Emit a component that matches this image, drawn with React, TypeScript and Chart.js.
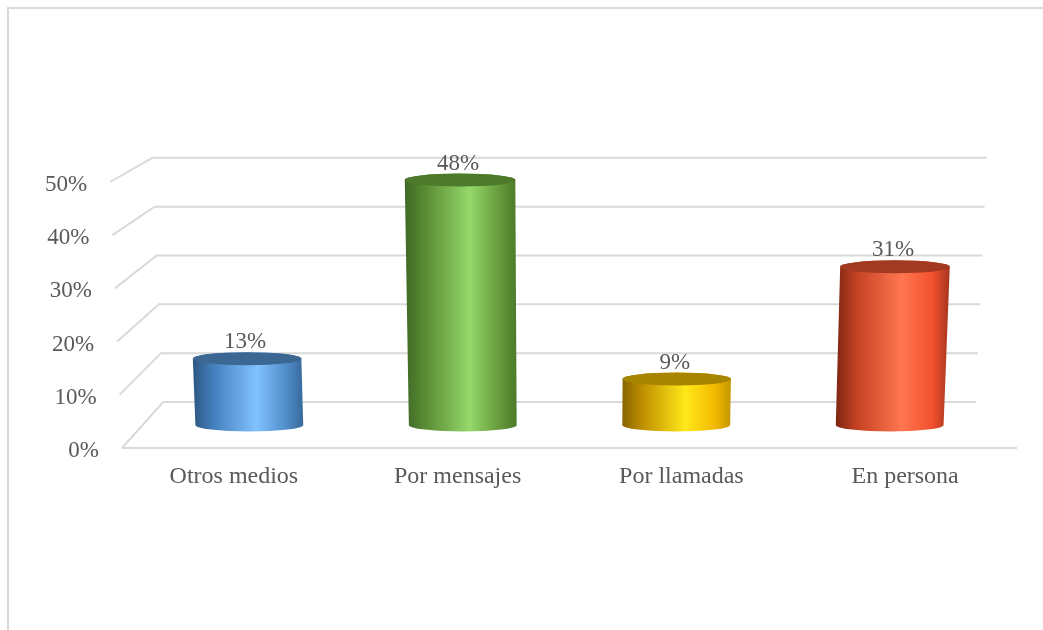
import { useEffect, useRef } from 'react';
import { Chart, registerables } from 'chart.js';

Chart.register(...registerables);

const CATEGORIES = ['Otros medios', 'Por mensajes', 'Por llamadas', 'En persona'];
const VALUES = [13, 48, 9, 31];
const DATA_LABELS = ['13%', '48%', '9%', '31%'];
const TICK_VALUES = [0, 10, 20, 30, 40, 50];
const TICK_LABELS = ['0%', '10%', '20%', '30%', '40%', '50%'];

const BODY_STOPS: [number, string][][] = [
  [[0, '#2c5682'], [0.2, '#4782c0'], [0.58, '#80c2ff'], [0.85, '#4f8cc8'], [1, '#386a9c']],
  [[0, '#3f6826'], [0.2, '#5c8f35'], [0.58, '#94d86a'], [0.85, '#66993b'], [1, '#4c7a2a']],
  [[0, '#876500'], [0.2, '#c29200'], [0.58, '#ffe81a'], [0.85, '#f4ba00'], [1, '#c49600']],
  [[0, '#7e2511'], [0.2, '#c94425'], [0.58, '#ff7650'], [0.85, '#f2502d'], [1, '#a5351e']],
];
const TOP_COLORS = ['#3c6792', '#4c7a2a', '#a88500', '#a13a21'];

const TEXT = '#595959';
const GRID = '#d9d9d9';
const KX_BACK = 0.908;
const KY_BACK = 0.918;
const LEAN = 1.0e-4;
const CYL_DEPTH = 0.5;
const RY = 6.5;

function project(chart: any, xf: number, v: number, d: number) {
  const area = chart.chartArea;
  const y0 = chart.scales.y.getPixelForValue(v);
  const cx = (area.left + area.right) / 2;
  const vy = area.bottom - 561;
  const x0 = cx + (xf - cx) * (1 + LEAN * (area.bottom - y0));
  const kx = 1 - d * (1 - KX_BACK);
  const ky = 1 - d * (1 - KY_BACK);
  return { x: cx + kx * (x0 - cx), y: vy + ky * (y0 - vy) };
}

const perspectivePlugin = {
  id: 'perspective3d',
  beforeDatasetsDraw(chart: any) {
    const ctx = chart.ctx;
    const area = chart.chartArea;
    ctx.save();
    ctx.strokeStyle = GRID;
    ctx.lineWidth = 2;
    TICK_VALUES.forEach((v) => {
      const a = project(chart, area.left, v, 0);
      const b = project(chart, area.left, v, 1);
      const c = project(chart, area.right, v, 1);
      ctx.beginPath();
      ctx.moveTo(a.x, a.y);
      ctx.lineTo(b.x, b.y);
      ctx.lineTo(c.x, c.y);
      ctx.stroke();
    });
    const f1 = project(chart, area.left, 0, 0);
    const f2 = project(chart, area.right, 0, 0);
    ctx.beginPath();
    ctx.moveTo(f1.x, f1.y);
    ctx.lineTo(f2.x, f2.y);
    ctx.stroke();

    ctx.fillStyle = TEXT;
    ctx.font = '23px "Liberation Serif"';
    ctx.textAlign = 'right';
    ctx.textBaseline = 'middle';
    TICK_VALUES.forEach((v, i) => {
      const a = project(chart, area.left, v, 0);
      ctx.fillText(TICK_LABELS[i], a.x - 23, a.y + 3);
    });
    ctx.font = '24px "Liberation Serif"';
    ctx.textAlign = 'center';
    const xs = chart.scales.x;
    CATEGORIES.forEach((c, i) => {
      ctx.fillText(c, xs.getPixelForValue(i), area.bottom + 29);
    });
    ctx.restore();
  },
  afterDatasetsDraw(chart: any) {
    const ctx = chart.ctx;
    const meta = chart.getDatasetMeta(0);
    ctx.save();
    meta.data.forEach((el: any, i: number) => {
      const w = el.width;
      const xl = el.x - w / 2;
      const xr = el.x + w / 2;
      const v = VALUES[i];
      const bl = project(chart, xl, 0, CYL_DEPTH);
      const br = project(chart, xr, 0, CYL_DEPTH);
      const tl = project(chart, xl, v, CYL_DEPTH);
      const tr = project(chart, xr, v, CYL_DEPTH);
      const bcx = (bl.x + br.x) / 2;
      const brx = (br.x - bl.x) / 2;
      const tcx = (tl.x + tr.x) / 2;
      const trx = (tr.x - tl.x) / 2;
      const grad = ctx.createLinearGradient(Math.min(bl.x, tl.x), 0, Math.max(br.x, tr.x), 0);
      BODY_STOPS[i].forEach(([o, c]) => grad.addColorStop(o, c));
      ctx.beginPath();
      ctx.moveTo(tl.x, tl.y);
      ctx.lineTo(bl.x, bl.y);
      ctx.ellipse(bcx, bl.y, brx, RY, 0, Math.PI, 0, true);
      ctx.lineTo(tr.x, tr.y);
      ctx.ellipse(tcx, tl.y, trx, RY, 0, 0, Math.PI, true);
      ctx.closePath();
      ctx.fillStyle = grad;
      ctx.fill();
      ctx.beginPath();
      ctx.ellipse(tcx, tl.y, trx, RY, 0, 0, Math.PI * 2);
      ctx.fillStyle = TOP_COLORS[i];
      ctx.fill();

      ctx.fillStyle = TEXT;
      ctx.font = '23px "Liberation Serif"';
      ctx.textAlign = 'center';
      ctx.textBaseline = 'middle';
      ctx.fillText(DATA_LABELS[i], tcx - 2, tl.y - RY - 10);
    });
    ctx.restore();
  },
};

export default function App() {
  const ref = useRef<HTMLCanvasElement | null>(null);
  useEffect(() => {
    if (!ref.current) return;
    const chart = new Chart(ref.current, {
      type: 'bar',
      data: {
        labels: CATEGORIES,
        datasets: [
          {
            data: VALUES,
            backgroundColor: 'rgba(0,0,0,0)',
            borderWidth: 0,
            barPercentage: 0.505,
            categoryPercentage: 1,
          },
        ],
      },
      options: {
        responsive: false,
        animation: false,
        events: [],
        layout: { padding: { left: 122, right: 26, top: 182, bottom: 182 } },
        plugins: { legend: { display: false }, tooltip: { enabled: false } },
        scales: {
          x: { display: false, offset: true, grid: { display: false } },
          y: { display: false, min: 0, max: 50, ticks: { stepSize: 10 } },
        },
      },
      plugins: [perspectivePlugin],
    });
    return () => chart.destroy();
  }, []);
  return (
    <div style={{ position: 'fixed', left: 0, top: 0, width: 1043, height: 630, background: '#fff' }}>
      <div
        style={{
          position: 'absolute',
          left: 7,
          top: 7,
          width: 1036,
          height: 623,
          boxSizing: 'border-box',
          borderLeft: '2px solid #d9d9d9',
          borderTop: '2px solid #d9d9d9',
        }}
      />
      <canvas ref={ref} width={1043} height={630} style={{ position: 'absolute', left: 0, top: 0, width: 1043, height: 630 }} />
    </div>
  );
}
